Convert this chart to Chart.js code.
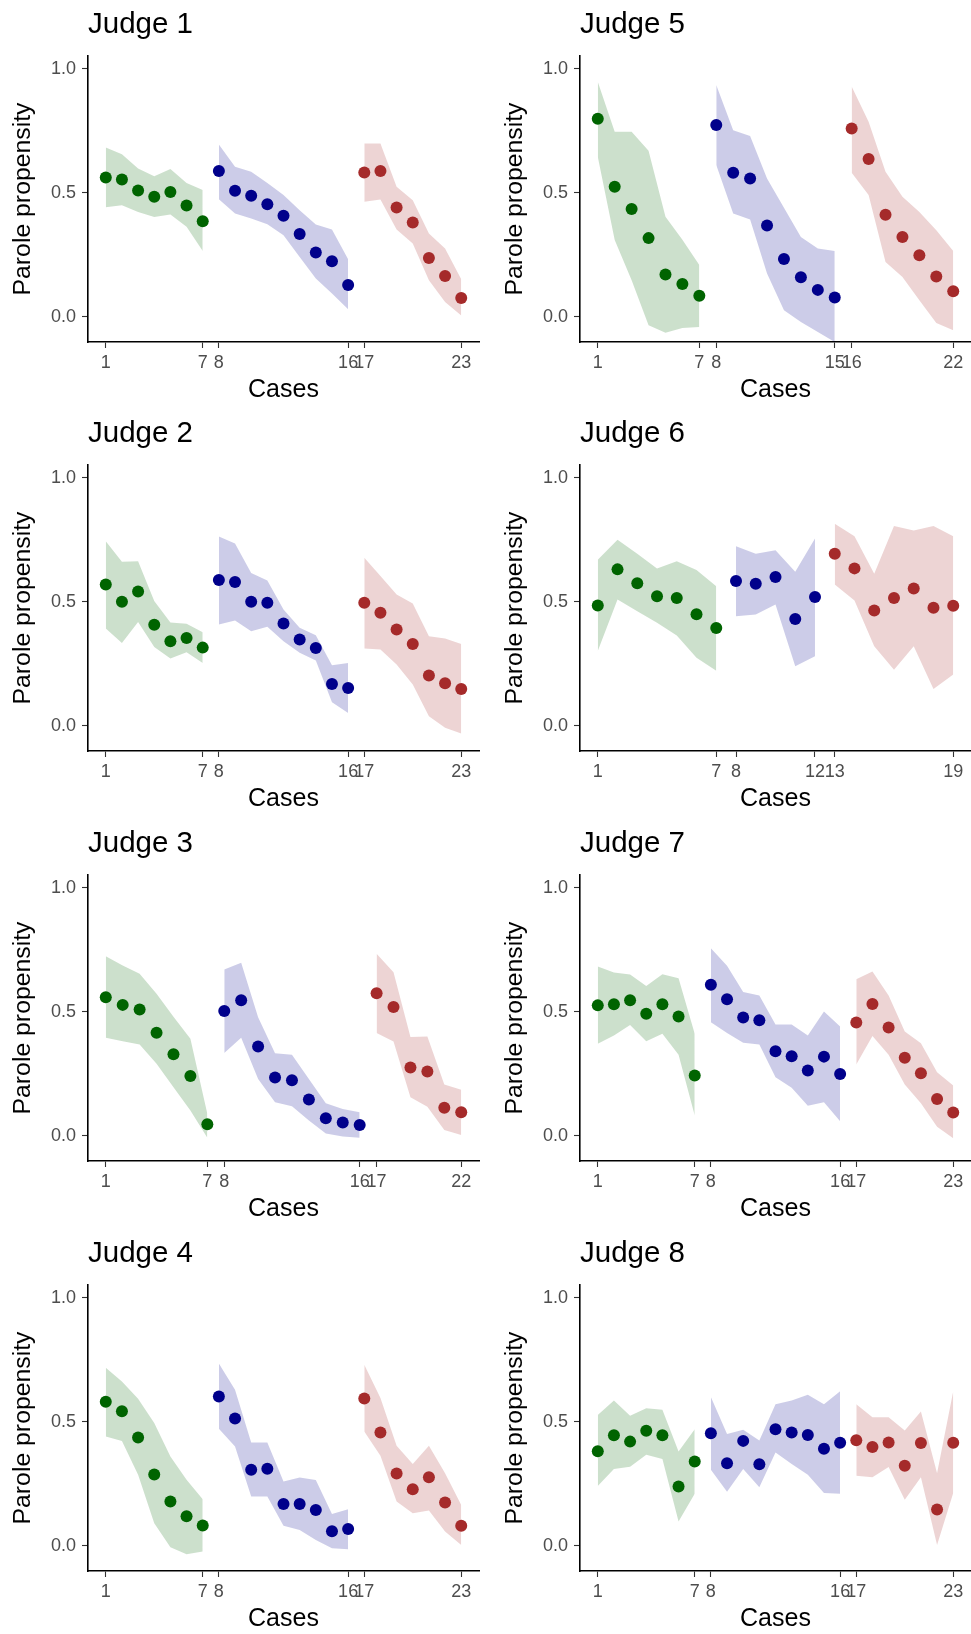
<!DOCTYPE html>
<html>
<head>
<meta charset="utf-8">
<script src="https://cdn.jsdelivr.net/npm/chart.js@4.4.0/dist/chart.umd.min.js"></script>
<style>
  html, body { margin: 0; padding: 0; background: #fff; overflow: hidden; }
  #wrap { position: relative; width: 971px; height: 1634px; }
  #wrap canvas { position: absolute; }
</style>
</head>
<body>
<div id="wrap"></div>
<script>
// judges 1-4 go in the left column, 5-8 in the right one
const judgeNames = ["Judge 1", "Judge 2", "Judge 3", "Judge 4", "Judge 5", "Judge 6", "Judge 7", "Judge 8"];
// cases per group (green, blue, red)
const groupSizes = [[7, 9, 7], [7, 9, 7], [7, 9, 6], [7, 9, 7], [7, 8, 7], [7, 5, 7], [7, 9, 7], [7, 9, 7]];

const j1Mean  = [0.562, 0.554, 0.509, 0.484, 0.503, 0.449, 0.385, 0.588, 0.508, 0.488, 0.454, 0.407, 0.334, 0.259, 0.224, 0.128, 0.582, 0.588, 0.441, 0.380, 0.237, 0.164, 0.075];
const j1Upper = [0.683, 0.656, 0.598, 0.567, 0.596, 0.540, 0.511, 0.695, 0.605, 0.585, 0.540, 0.491, 0.430, 0.372, 0.352, 0.232, 0.699, 0.699, 0.524, 0.470, 0.336, 0.275, 0.151];
const j1Lower = [0.442, 0.450, 0.423, 0.402, 0.412, 0.363, 0.265, 0.474, 0.416, 0.396, 0.373, 0.329, 0.241, 0.154, 0.093, 0.030, 0.464, 0.473, 0.352, 0.295, 0.147, 0.059, 0.005];

const j2Mean  = [0.570, 0.500, 0.542, 0.407, 0.341, 0.354, 0.315, 0.588, 0.580, 0.500, 0.496, 0.412, 0.348, 0.313, 0.168, 0.152, 0.496, 0.456, 0.388, 0.330, 0.202, 0.171, 0.148];
const j2Upper = [0.745, 0.662, 0.664, 0.503, 0.416, 0.411, 0.377, 0.764, 0.735, 0.616, 0.586, 0.469, 0.395, 0.365, 0.244, 0.253, 0.678, 0.604, 0.530, 0.493, 0.361, 0.352, 0.330];
const j2Lower = [0.392, 0.334, 0.418, 0.317, 0.271, 0.296, 0.253, 0.408, 0.425, 0.381, 0.399, 0.341, 0.294, 0.263, 0.094, 0.051, 0.311, 0.307, 0.247, 0.166, 0.038, -0.009, -0.032];

const j3Mean  = [0.559, 0.528, 0.509, 0.415, 0.329, 0.241, 0.046, 0.503, 0.547, 0.360, 0.235, 0.224, 0.146, 0.070, 0.053, 0.043, 0.575, 0.519, 0.275, 0.259, 0.113, 0.094];
const j3Upper = [0.724, 0.687, 0.654, 0.573, 0.480, 0.391, 0.088, 0.671, 0.698, 0.478, 0.333, 0.327, 0.229, 0.131, 0.108, 0.094, 0.734, 0.660, 0.398, 0.400, 0.206, 0.185];
const j3Lower = [0.395, 0.381, 0.368, 0.290, 0.195, 0.101, -0.009, 0.334, 0.395, 0.229, 0.135, 0.119, 0.061, 0.009, -0.004, -0.009, 0.414, 0.380, 0.155, 0.117, 0.023, 0.003];

const j4Mean  = [0.581, 0.543, 0.437, 0.287, 0.178, 0.119, 0.081, 0.602, 0.513, 0.306, 0.310, 0.168, 0.168, 0.144, 0.058, 0.067, 0.594, 0.457, 0.291, 0.228, 0.276, 0.174, 0.080];
const j4Upper = [0.718, 0.663, 0.593, 0.495, 0.360, 0.266, 0.187, 0.735, 0.629, 0.416, 0.416, 0.259, 0.275, 0.265, 0.128, 0.147, 0.730, 0.596, 0.403, 0.330, 0.403, 0.292, 0.164];
const j4Lower = [0.441, 0.423, 0.286, 0.090, -0.007, -0.035, -0.024, 0.472, 0.400, 0.198, 0.198, 0.080, 0.063, 0.023, -0.011, -0.015, 0.461, 0.363, 0.178, 0.131, 0.142, 0.057, 0.003];

const j5Mean  = [0.799, 0.524, 0.435, 0.317, 0.170, 0.132, 0.084, 0.774, 0.581, 0.558, 0.368, 0.233, 0.159, 0.108, 0.077, 0.760, 0.637, 0.411, 0.322, 0.248, 0.162, 0.102];
const j5Upper = [0.949, 0.747, 0.747, 0.670, 0.403, 0.310, 0.208, 0.935, 0.753, 0.729, 0.558, 0.440, 0.322, 0.275, 0.265, 0.929, 0.787, 0.585, 0.484, 0.423, 0.349, 0.265];
const j5Lower = [0.646, 0.309, 0.147, -0.035, -0.065, -0.046, -0.042, 0.612, 0.416, 0.392, 0.174, 0.026, -0.022, -0.062, -0.102, 0.581, 0.491, 0.221, 0.160, 0.066, -0.026, -0.055];

const j6Mean  = [0.485, 0.631, 0.575, 0.522, 0.515, 0.450, 0.394, 0.584, 0.573, 0.600, 0.431, 0.519, 0.694, 0.635, 0.465, 0.515, 0.554, 0.476, 0.484];
const j6Upper = [0.670, 0.751, 0.694, 0.635, 0.664, 0.628, 0.563, 0.724, 0.694, 0.708, 0.621, 0.756, 0.815, 0.765, 0.613, 0.806, 0.788, 0.806, 0.765];
const j6Lower = [0.301, 0.509, 0.462, 0.415, 0.364, 0.274, 0.222, 0.442, 0.449, 0.489, 0.240, 0.280, 0.570, 0.505, 0.321, 0.226, 0.321, 0.148, 0.206];

const j7Mean  = [0.526, 0.531, 0.547, 0.492, 0.531, 0.481, 0.243, 0.609, 0.551, 0.477, 0.466, 0.341, 0.321, 0.263, 0.319, 0.249, 0.457, 0.532, 0.437, 0.314, 0.252, 0.148, 0.093];
const j7Upper = [0.683, 0.659, 0.651, 0.604, 0.652, 0.636, 0.411, 0.757, 0.686, 0.580, 0.566, 0.449, 0.449, 0.404, 0.501, 0.441, 0.631, 0.663, 0.566, 0.420, 0.373, 0.256, 0.202];
const j7Lower = [0.371, 0.404, 0.447, 0.381, 0.411, 0.327, 0.081, 0.458, 0.414, 0.375, 0.368, 0.236, 0.193, 0.121, 0.135, 0.058, 0.287, 0.402, 0.327, 0.206, 0.131, 0.036, -0.011];

const j8Mean  = [0.381, 0.446, 0.420, 0.464, 0.446, 0.239, 0.340, 0.454, 0.333, 0.423, 0.329, 0.470, 0.457, 0.447, 0.391, 0.415, 0.426, 0.398, 0.416, 0.323, 0.414, 0.146, 0.415];
const j8Upper = [0.528, 0.586, 0.524, 0.555, 0.549, 0.380, 0.470, 0.600, 0.451, 0.468, 0.425, 0.571, 0.586, 0.609, 0.571, 0.623, 0.571, 0.518, 0.518, 0.465, 0.542, 0.292, 0.623];
const j8Lower = [0.241, 0.309, 0.319, 0.367, 0.350, 0.097, 0.209, 0.306, 0.218, 0.309, 0.236, 0.376, 0.330, 0.286, 0.212, 0.209, 0.282, 0.276, 0.317, 0.185, 0.276, 0.003, 0.212];

const yTicks = [0, 0.5, 1];

const means  = [j1Mean, j2Mean, j3Mean, j4Mean, j5Mean, j6Mean, j7Mean, j8Mean];
const uppers = [j1Upper, j2Upper, j3Upper, j4Upper, j5Upper, j6Upper, j7Upper, j8Upper];
const lowers = [j1Lower, j2Lower, j3Lower, j4Lower, j5Lower, j6Lower, j7Lower, j8Lower];

const pointColors = ["#006400", "#00008B", "#A52A2A"];
const bandColors = ["rgba(0,100,0,0.2)", "rgba(0,0,139,0.2)", "rgba(165,42,42,0.2)"];

const FONT = "'Liberation Sans', Arial, Helvetica, sans-serif";
const rowTops = [0, 409, 819, 1229];
const PANEL_H = 405;

function makePanel(k) {
  const col = k < 4 ? 0 : 1;
  const row = k % 4;
  const sizes = groupSizes[k];
  const n = sizes.reduce((a, b) => a + b, 0);

  const canvas = document.createElement("canvas");
  canvas.width = col == 0 ? 485 : 479;
  canvas.height = PANEL_H;
  canvas.style.left = (col == 0 ? 0 : 492) + "px";
  canvas.style.top = rowTops[row] + "px";
  document.getElementById("wrap").appendChild(canvas);

  const datasets = [];
  const xTicks = [];
  let start = 0;
  sizes.forEach((size, g) => {
    const cases = [];
    for (let i = 0; i < size; i++) cases.push(start + i + 1);
    xTicks.push(cases[0], cases[cases.length - 1]);

    datasets.push({
      type: "line",
      data: cases.map((c, i) => ({ x: c, y: lowers[k][start + i] })),
      borderWidth: 0,
      borderColor: "transparent",
      pointRadius: 0,
      fill: false,
      order: 1,
    });
    datasets.push({
      type: "line",
      data: cases.map((c, i) => ({ x: c, y: uppers[k][start + i] })),
      borderWidth: 0,
      borderColor: "transparent",
      backgroundColor: bandColors[g],
      pointRadius: 0,
      fill: "-1",
      order: 1,
    });
    datasets.push({
      type: "scatter",
      data: cases.map((c, i) => ({ x: c, y: means[k][start + i] })),
      pointRadius: 6,
      pointHoverRadius: 6,
      backgroundColor: pointColors[g],
      borderWidth: 0,
      order: 0,
    });
    start += size;
  });

  const pad = 0.05 * (n - 1);

  new Chart(canvas, {
    type: "line",
    data: { datasets: datasets },
    options: {
      responsive: false,
      animation: false,
      devicePixelRatio: 1,
      layout: { autoPadding: false, padding: { left: 0, top: 0, right: col == 0 ? 6 : 0, bottom: 0 } },
      plugins: {
        legend: { display: false },
        tooltip: { enabled: false },
        title: {
          display: true,
          text: judgeNames[k],
          align: "start",
          fullSize: false,
          color: "#000",
          font: { family: FONT, size: 29.5, weight: "normal" },
          padding: { top: 7, bottom: 13.6 },
        },
      },
      scales: {
        x: {
          type: "linear",
          min: 1 - pad,
          max: n + pad,
          afterBuildTicks: (s) => { s.ticks = xTicks.map((v) => ({ value: v })); },
          afterFit: (s) => { s.height = PANEL_H - 342; },
          border: { display: true, color: "#000", width: 1.6 },
          grid: { drawOnChartArea: false, drawTicks: true, tickLength: 6, tickColor: "#333", tickWidth: 1.1 },
          ticks: {
            autoSkip: false,
            maxRotation: 0,
            padding: 4,
            color: "#4D4D4D",
            font: { family: FONT, size: 18 },
            callback: (v) => String(v),
          },
          title: {
            display: true,
            text: "Cases",
            color: "#000",
            font: { family: FONT, size: 25 },
            padding: { top: 0, bottom: 0 },
          },
        },
        y: {
          type: "linear",
          min: -0.1025,
          max: 1.0525,
          afterBuildTicks: (s) => { s.ticks = yTicks.map((v) => ({ value: v })); },
          afterFit: (s) => { s.width = 88; },
          border: { display: true, color: "#000", width: 1.6 },
          grid: { drawOnChartArea: false, drawTicks: true, tickLength: 6, tickColor: "#333", tickWidth: 1.1 },
          ticks: {
            padding: 6,
            color: "#4D4D4D",
            font: { family: FONT, size: 18 },
            callback: (v) => v.toFixed(1),
          },
          title: {
            display: true,
            text: "Parole propensity",
            color: "#000",
            font: { family: FONT, size: 24.8 },
            padding: { top: 8.5, bottom: 0 },
          },
        },
      },
    },
  });
}

for (let k = 0; k < 8; k++) makePanel(k);
</script>
</body>
</html>
